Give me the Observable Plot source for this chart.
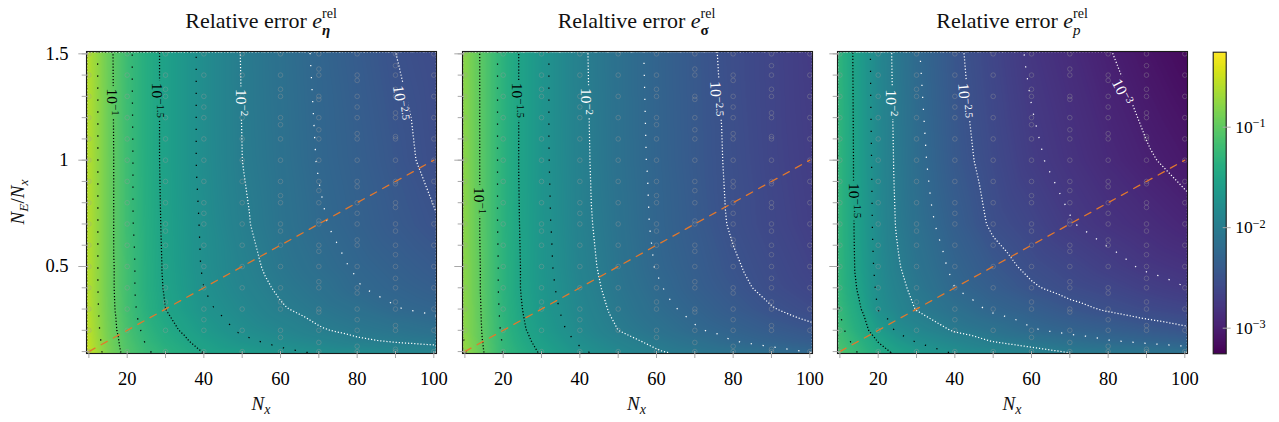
<!DOCTYPE html>
<html>
<head>
<meta charset="utf-8">
<script src="https://cdn.jsdelivr.net/npm/d3@7"></script>
<script src="https://cdn.jsdelivr.net/npm/@observablehq/plot@0.6"></script>
<style>
  body { margin: 0; background: #fff; }
  #wrap { position: relative; width: 1279px; height: 422px; overflow: hidden; font-family: "Liberation Serif", "Times New Roman", serif; }
  #wrap svg { position: absolute; top: 0; }
</style>
</head>
<body>
<div id="wrap"></div>
<script>
// ---------- data (log10 of relative error; first/last column and row are the frame edges) ----------
const nx = [9.38, 15, 20, 25, 30, 40, 50, 60, 70, 80, 90, 100.7];
const ratios = [0.091, 0.15, 0.2, 0.3, 0.4, 0.5, 0.7, 1.0, 1.511];

const logErrEta = [
  [-0.48, -0.85, -1.07, -1.22, -1.32, -1.50, -1.59, -1.69, -1.76, -1.79, -1.84, -1.88],
  [-0.51, -0.87, -1.10, -1.27, -1.39, -1.57, -1.71, -1.81, -1.89, -1.97, -2.02, -2.06],
  [-0.53, -0.89, -1.13, -1.30, -1.43, -1.63, -1.78, -1.88, -1.98, -2.05, -2.10, -2.16],
  [-0.55, -0.91, -1.16, -1.35, -1.50, -1.71, -1.85, -1.98, -2.07, -2.15, -2.24, -2.29],
  [-0.56, -0.92, -1.17, -1.37, -1.52, -1.75, -1.90, -2.03, -2.13, -2.24, -2.30, -2.36],
  [-0.56, -0.92, -1.17, -1.37, -1.53, -1.77, -1.93, -2.07, -2.18, -2.27, -2.34, -2.41],
  [-0.56, -0.92, -1.19, -1.38, -1.54, -1.78, -1.97, -2.11, -2.23, -2.32, -2.41, -2.49],
  [-0.56, -0.92, -1.19, -1.39, -1.55, -1.80, -2.00, -2.13, -2.26, -2.35, -2.45, -2.55],
  [-0.56, -0.93, -1.20, -1.39, -1.55, -1.80, -2.01, -2.15, -2.28, -2.39, -2.50, -2.58]
];
const logErrSigma = [
  [-0.70, -1.00, -1.26, -1.39, -1.52, -1.71, -1.84, -1.97, -2.04, -2.11, -2.17, -2.24],
  [-0.73, -1.02, -1.27, -1.44, -1.57, -1.78, -1.93, -2.05, -2.15, -2.25, -2.32, -2.39],
  [-0.76, -1.03, -1.29, -1.47, -1.61, -1.83, -2.00, -2.12, -2.23, -2.31, -2.39, -2.46],
  [-0.76, -1.04, -1.31, -1.50, -1.65, -1.87, -2.05, -2.19, -2.30, -2.40, -2.49, -2.57],
  [-0.76, -1.05, -1.32, -1.52, -1.67, -1.90, -2.08, -2.23, -2.35, -2.45, -2.55, -2.63],
  [-0.76, -1.05, -1.32, -1.52, -1.68, -1.92, -2.10, -2.26, -2.37, -2.48, -2.57, -2.66],
  [-0.76, -1.06, -1.33, -1.53, -1.69, -1.94, -2.12, -2.28, -2.40, -2.52, -2.61, -2.70],
  [-0.76, -1.06, -1.33, -1.54, -1.70, -1.95, -2.14, -2.29, -2.42, -2.53, -2.63, -2.72],
  [-0.76, -1.06, -1.33, -1.54, -1.70, -1.96, -2.15, -2.30, -2.43, -2.55, -2.64, -2.74]
];
const logErrP = [
  [-1.07, -1.26, -1.42, -1.53, -1.61, -1.76, -1.83, -1.91, -1.99, -2.03, -2.08, -2.13],
  [-1.14, -1.33, -1.51, -1.65, -1.77, -1.89, -2.01, -2.09, -2.17, -2.24, -2.29, -2.34],
  [-1.18, -1.40, -1.60, -1.78, -1.86, -2.02, -2.12, -2.23, -2.30, -2.35, -2.41, -2.47],
  [-1.23, -1.47, -1.76, -1.89, -2.01, -2.15, -2.28, -2.36, -2.45, -2.52, -2.58, -2.63],
  [-1.26, -1.53, -1.79, -1.94, -2.06, -2.25, -2.37, -2.48, -2.56, -2.62, -2.69, -2.75],
  [-1.265, -1.56, -1.81, -1.98, -2.10, -2.29, -2.43, -2.54, -2.62, -2.70, -2.77, -2.82],
  [-1.27, -1.57, -1.83, -2.02, -2.15, -2.36, -2.53, -2.63, -2.74, -2.81, -2.87, -2.94],
  [-1.27, -1.58, -1.84, -2.04, -2.19, -2.42, -2.58, -2.72, -2.81, -2.90, -2.98, -3.06],
  [-1.28, -1.59, -1.86, -2.06, -2.23, -2.46, -2.63, -2.78, -2.88, -2.99, -3.09, -3.18]
];

// contour levels (log10)
const majorBlack = [-1, -1.5];
const minorBlack = [-0.75, -1.25, -1.75];
const majorWhite = [-2, -2.5, -3];
const minorWhite = [-2.25, -2.75];

// sample points (grey circles)
const sampleNx = [10, 20, 30, 40, 50, 60, 70, 80, 90, 100];
const sampleRatio = [0.1, 0.2, 0.3, 0.4, 0.5, 0.6, 0.7, 0.8, 0.9, 1.0, 1.1, 1.2, 1.3, 1.4, 1.5];
const sampleNE = [10, 20, 30, 40, 50, 60, 70, 80, 90, 100, 110, 120, 130, 140, 150];

// reference line N_E = N_x^2/100
const refNx = [10, 100];
const refRatio = [0.1, 1.0];

// contour labels
const labelText = ["10^−1", "10^−1.5", "10^−2", "10^−2.5", "10^−1", "10^−1.5", "10^−2", "10^−2.5", "10^−1.5", "10^−2", "10^−2.5", "10^−3"];
const labelPanel = [0, 0, 0, 0, 1, 1, 1, 1, 2, 2, 2, 2];
const labelNx = [16.1, 27.8, 49.7, 91.3, 13.7, 23.6, 41.7, 75.5, 13.8, 23.3, 42.5, 83.6];
const labelRatio = [1.273, 1.281, 1.271, 1.269, 0.81, 1.281, 1.276, 1.288, 0.81, 1.269, 1.28, 1.32];
const labelAngle = [90, 90, 90, 82, 90, 90, 90, 88, 90, 90, 86, 63];
const labelColor = ["black", "black", "white", "white", "black", "black", "white", "white", "black", "white", "white", "white"];

const yMinorTicks = [0.1, 0.2, 0.3, 0.4, 0.5, 0.6, 0.7, 0.8, 0.9, 1.0, 1.1, 1.2, 1.3, 1.4, 1.5];
const yMajorTicks = [0.5, 1, 1.5];
const xTicks = [10, 20, 30, 40, 50, 60, 70, 80, 90, 100];
const xLabelTicks = [20, 40, 60, 80, 100];
const cbTicks = [-3, -2, -1];

// ---------- layout ----------
const NS = "http://www.w3.org/2000/svg";
const cbMin = -3.255, cbMax = -0.254;
const xDomain = [9.38, 100.7], yDomain = [0.091, 1.511];
const panelLefts = [0, 375.7, 751.3];
const grids = [logErrEta, logErrSigma, logErrP];
const colorScale = {type: "linear", domain: [cbMin, cbMax], scheme: "viridis"};
const tickGray = "#a8a8a8";
const wrap = document.getElementById("wrap");

const samples = [];
for (const n of sampleNx) {
  const rs = new Set(sampleRatio.map(r => +r.toFixed(4)));
  for (const e of sampleNE) { const r = e / n; if (r >= 0.1 - 1e-9 && r <= 1.5 + 1e-9) rs.add(+r.toFixed(4)); }
  for (const r of rs) samples.push({n, r});
}
const refLine = refNx.map((n, i) => ({n, r: refRatio[i]}));
const labels = labelText.map((t, i) => ({t, p: labelPanel[i], n: labelNx[i], r: labelRatio[i], a: labelAngle[i], c: labelColor[i]}));

function supify(root) {
  root.querySelectorAll("text").forEach(t => {
    const s = t.textContent;
    if (!s.includes("^")) return;
    const [b, e] = s.split("^");
    while (t.firstChild) t.removeChild(t.firstChild);
    t.appendChild(document.createTextNode(b));
    const ts = document.createElementNS(NS, "tspan");
    ts.setAttribute("dy", "-0.45em");
    ts.style.fontSize = "0.7em";
    ts.textContent = e;
    t.appendChild(ts);
  });
}

// cut the contour lines where their labels sit
function gapContours(svg, id) {
  const defs = document.createElementNS(NS, "defs");
  const mask = document.createElementNS(NS, "mask");
  mask.setAttribute("id", id);
  mask.setAttribute("maskUnits", "userSpaceOnUse");
  mask.setAttribute("x", -50); mask.setAttribute("y", -50);
  mask.setAttribute("width", 600); mask.setAttribute("height", 600);
  const bg = document.createElementNS(NS, "rect");
  bg.setAttribute("x", -50); bg.setAttribute("y", -50); bg.setAttribute("width", 600); bg.setAttribute("height", 600);
  bg.setAttribute("fill", "white");
  mask.appendChild(bg);
  svg.querySelectorAll('g[aria-label="text"] text').forEach(t => {
    const b = t.getBBox();
    const r = document.createElementNS(NS, "rect");
    r.setAttribute("x", b.x - 2.5); r.setAttribute("y", b.y + 2);
    r.setAttribute("width", b.width + 5); r.setAttribute("height", Math.max(1, b.height - 4));
    r.setAttribute("fill", "black");
    const gT = t.parentNode.getAttribute("transform") || "";
    const tT = t.getAttribute("transform") || "";
    r.setAttribute("transform", (gT + " " + tT).trim());
    mask.appendChild(r);
  });
  defs.appendChild(mask);
  svg.insertBefore(defs, svg.firstChild);
  svg.querySelectorAll('g[aria-label="contour"]').forEach(g => g.setAttribute("mask", `url(#${id})`));
}

grids.forEach((grid, p) => {
  const pts = [];
  ratios.forEach((r, i) => nx.forEach((n, j) => pts.push({n, r, v: grid[i][j]})));
  const base = {x: "n", y: "r", value: "v", interpolate: "barycentric", fill: "none", strokeWidth: 1.25, clip: true};
  const dense = "1.2,1.9", sparse = "1.3,10.7";
  const labs = labels.filter(d => d.p === p);
  const marks = [
    Plot.raster(pts, {x: "n", y: "r", fill: "v", interpolate: "barycentric"}),
    Plot.contour(pts, {...base, thresholds: minorBlack, stroke: "black", strokeDasharray: sparse}),
    Plot.contour(pts, {...base, thresholds: majorBlack, stroke: "black", strokeDasharray: dense}),
    Plot.contour(pts, {...base, thresholds: minorWhite, stroke: "white", strokeDasharray: sparse}),
    Plot.contour(pts, {...base, thresholds: majorWhite, stroke: "white", strokeDasharray: dense}),
    Plot.dot(samples, {x: "n", y: "r", r: 2.3, stroke: "#9a9a9a", strokeOpacity: 0.45, strokeWidth: 0.8, fill: "none"}),
    Plot.line(refLine, {x: "n", y: "r", stroke: "#e3782c", strokeWidth: 1.3, strokeDasharray: "7,7", clip: true}),
    Plot.text(labs.filter(d => d.c === "black"), {x: "n", y: "r", text: "t", rotate: "a", fill: "black", fontSize: 15.5}),
    Plot.text(labs.filter(d => d.c === "white"), {x: "n", y: "r", text: "t", rotate: "a", fill: "white", fontSize: 15.5}),
    Plot.frame({stroke: "#1a1a1a", strokeWidth: 1.1}),
    Plot.axisX({ticks: xTicks, tickSize: 7, dy: -2, tickFormat: () => "", stroke: tickGray}),
    Plot.axisY({ticks: yMinorTicks, tickSize: 6.6, dx: 2.3, tickFormat: () => "", stroke: tickGray}),
    Plot.axisY({ticks: yMajorTicks, tickSize: 10, dx: 2.3, tickFormat: () => "", stroke: tickGray}),
    Plot.axisX({ticks: xLabelTicks, tickSize: 0, tickPadding: 18, tickFormat: d => String(d), fontSize: 18.5})
  ];
  if (p === 0) marks.push(Plot.axisY({ticks: yMajorTicks, tickSize: 0, tickPadding: 18, tickFormat: d => String(d), fontSize: 18.5}));
  const svg = Plot.plot({
    width: 460, height: 422,
    marginLeft: 86, marginRight: 24, marginTop: 51, marginBottom: 69,
    x: {domain: xDomain, label: null},
    y: {domain: yDomain, label: null},
    color: colorScale,
    style: {background: "transparent", fontFamily: "'Liberation Serif', 'Times New Roman', serif", fontSize: "18.5px", overflow: "visible"},
    marks
  });
  svg.style.left = panelLefts[p] + "px";
  supify(svg);
  wrap.appendChild(svg);
  try { gapContours(svg, "gap" + p); } catch (e) { console.error(e); }
});

// colorbar
const cb = Plot.plot({
  width: 99, height: 422,
  marginLeft: 32.7, marginRight: 53.3, marginTop: 51.7, marginBottom: 68.7,
  x: {domain: [0, 1], axis: null},
  y: {domain: [cbMin, cbMax], label: null},
  color: colorScale,
  style: {background: "transparent", fontFamily: "'Liberation Serif', 'Times New Roman', serif", fontSize: "17px", overflow: "visible"},
  marks: [
    Plot.raster({fill: (x, y) => y, x1: 0, x2: 1, y1: cbMin, y2: cbMax}),
    Plot.frame({stroke: "#1a1a1a", strokeWidth: 1.1}),
    Plot.axisY({anchor: "right", ticks: cbTicks, tickSize: 8, dx: -4, tickFormat: () => "", stroke: tickGray}),
    Plot.axisY({anchor: "right", ticks: cbTicks, tickSize: 0, tickPadding: 9, tickFormat: d => "10^−" + (-d), fontSize: 17.5})
  ]
});
cb.style.left = "1180px";
supify(cb);
wrap.appendChild(cb);

// titles and axis labels
const ov = document.createElementNS(NS, "svg");
ov.setAttribute("width", 1279); ov.setAttribute("height", 422);
ov.style.left = "0px"; ov.style.pointerEvents = "none";
ov.setAttribute("font-family", "'Liberation Serif', 'Times New Roman', serif");
const titleParts = [
  {cx: 261, pre: "Relative error ", sub: "η", subStyle: 'font-style="italic" font-weight="bold"'},
  {cx: 636.5, pre: "Relaltive error ", sub: "σ", subStyle: 'font-weight="bold"'},
  {cx: 1012, pre: "Relative error ", sub: "p", subStyle: 'font-style="italic"'}
];
let html = "";
for (const t of titleParts) {
  html += `<text x="${t.cx}" y="28" font-size="22" text-anchor="middle" fill="#111">${t.pre}<tspan font-style="italic">e</tspan><tspan font-size="14" dy="-10">rel</tspan><tspan font-size="15" ${t.subStyle} dx="-14.8" dy="16.5">${t.sub}</tspan></text>`;
  html += `<text x="${t.cx}" y="410" font-size="19" text-anchor="middle" fill="#111"><tspan font-style="italic">N</tspan><tspan font-style="italic" font-size="14" dy="4">x</tspan></text>`;
}
html += `<text transform="translate(24,202) rotate(-90)" font-size="19" text-anchor="middle" fill="#111"><tspan font-style="italic">N</tspan><tspan font-style="italic" font-size="13.5" dy="4">E</tspan><tspan dy="-4">/</tspan><tspan font-style="italic">N</tspan><tspan font-style="italic" font-size="13.5" dy="4">x</tspan></text>`;
ov.innerHTML = html;
wrap.appendChild(ov);
</script>
</body>
</html>
